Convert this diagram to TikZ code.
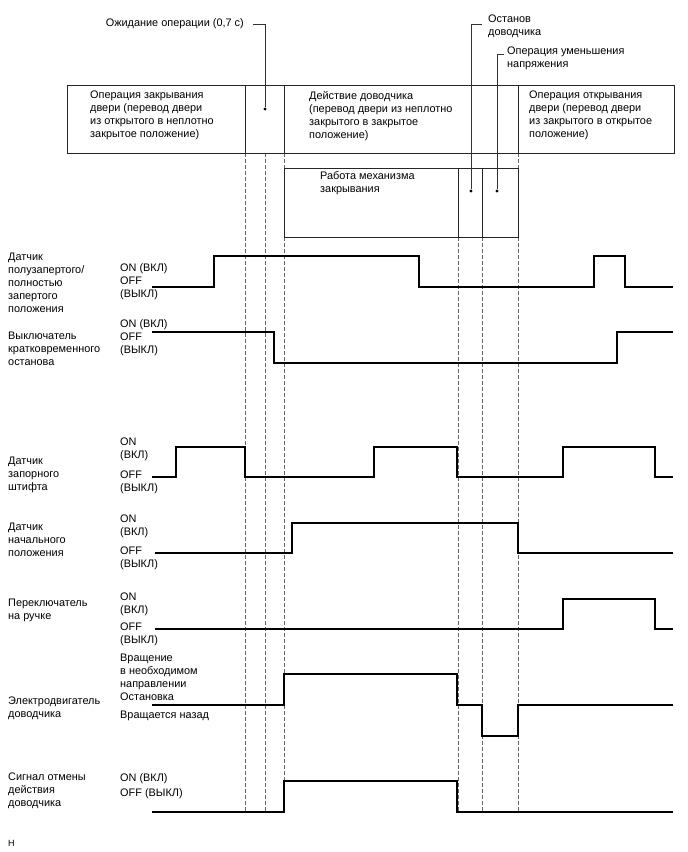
\documentclass[tikz,border=0pt]{standalone}
\usepackage{fontspec}
\setmainfont{Liberation Sans}
\usetikzlibrary{positioning}

\tikzset{
  frame/.style={draw=black!85, line width=0.9pt},
  guide/.style={draw=black!60, line width=0.7pt, dash pattern=on 3.5pt off 2.5pt},
  sig/.style={line width=1.8pt, line join=miter},
  lead/.style={draw=black!80, line width=0.8pt},
  txt/.style={font=\fontsize{10.9}{13}\selectfont, align=left, anchor=north west, inner sep=0pt},
  dot/.style={circle, fill=black, inner sep=0pt, minimum size=3.2pt}
}

\begin{document}
\begin{tikzpicture}[x=1pt,y=-1pt]
\useasboundingbox (0,0) rectangle (688,852);

% dashed time marks
\foreach \xx in {245,265,284,518}
  \draw[guide] (\xx,153) -- (\xx,811);
\foreach \xx in {458,482}
  \draw[guide] (\xx,237) -- (\xx,811);

% phase boxes
\draw[frame,fill=white] (67,85) rectangle (674,153);
\draw[frame] (245,85) -- (245,153) (284,85) -- (284,153) (518,85) -- (518,153);
\draw[frame,fill=white] (284,168) rectangle (518,237);
\draw[frame] (458,168) -- (458,237) (482,168) -- (482,237);

\node[txt] (opclose) at (90,91) {Операция закрывания\\двери (перевод двери\\из открытого в неплотно\\закрытое положение)};
\node[txt] (opcloser) at (309,91) {Действие доводчика\\(перевод двери из неплотно\\закрытого в закрытое\\положение)};
\node[txt] (opopen) at (529,91) {Операция открывания\\двери (перевод двери\\из закрытого в открытое\\положение)};
\node[txt] (mech) at (320,171) {Работа механизма\\закрывания};

% leaders
\node[dot] (dotwait) at (265,109) {};
\node[dot] (dotstop) at (471,191) {};
\node[dot] (dotreduce) at (497,191) {};
\node[font=\fontsize{10.9}{13}\selectfont, anchor=east, inner xsep=9pt, inner ysep=0pt] (lblwait) at (253,24) {Ожидание операции (0,7 с)};
\node[txt, anchor=west, inner xsep=6pt] (lblstop) at (482,26.5) {Останов\\доводчика};
\node[txt, anchor=west, inner xsep=3pt] (lblreduce) at (504,58.5) {Операция уменьшения\\напряжения};
\draw[lead] (dotwait) |- (lblwait.east);
\draw[lead] (dotstop) |- ([yshift=2.5pt]lblstop.west);
\draw[lead] (dotreduce) |- ([yshift=4.5pt]lblreduce.west);

% signal names
\node[txt] (nhalf) at (8,253) {Датчик\\полузапертого/\\полностью\\запертого\\положения};
\node[txt] (nmom) at (8,332) {Выключатель\\кратковременного\\останова};
\node[txt] (nlock) at (8,457) {Датчик\\запорного\\штифта};
\node[txt] (nhome) at (8,523) {Датчик\\начального\\положения};
\node[txt] (nhandle) at (8,599) {Переключатель\\на ручке};
\node[txt] (nmotor) at (8,697) {Электродвигатель\\доводчика};
\node[txt] (ncancel) at (8,773) {Сигнал отмены\\действия\\доводчика};

% signal levels
\node[txt] (lhalf) at (120,263) {ON (ВКЛ)\\OFF\\(ВЫКЛ)};
\node[txt] (lmom) at (120,319) {ON (ВКЛ)\\OFF\\(ВЫКЛ)};
\node[txt] (llockon) at (120,438) {ON\\(ВКЛ)};
\node[txt] (llockoff) at (120,471) {OFF\\(ВЫКЛ)};
\node[txt] (lhomeon) at (120,515) {ON\\(ВКЛ)};
\node[txt] (lhomeoff) at (120,547) {OFF\\(ВЫКЛ)};
\node[txt] (lhandleon) at (120,593) {ON\\(ВКЛ)};
\node[txt] (lhandleoff) at (120,623) {OFF\\(ВЫКЛ)};
\node[txt] (lmotor) at (120,654) {Вращение\\в необходимом\\направлении\\Остановка};
\node[txt] (lmotorback) at (120,711) {Вращается назад};
\node[txt] (lcancelon) at (120,773) {ON (ВКЛ)};
\node[txt] (lcanceloff) at (120,788) {OFF (ВЫКЛ)};

% waveforms
\draw[sig] (152,287) -| (214,256) -| (419,287) -| (594,256) -| (625,287) -- (673,287);
\draw[sig] (152,332) -| (274,363) -| (617,332) -- (673,332);
\draw[sig] (152,477) -| (176,447) -| (245,477) -| (374,447) -| (457,477) -| (563,447) -| (655,477) -- (673,477);
\draw[sig] (155,553) -| (292,523) -| (518,553) -- (673,553);
\draw[sig] (155,629) -| (563,599) -| (655,629) -- (673,629);
\draw[sig] (152,705) -| (284,674) -| (457,705) -| (482,736) -| (518,705) -- (673,705);
\draw[sig] (152,812) -| (284,781) -| (457,812) -- (673,812);

\node[font=\fontsize{9}{10}\selectfont, anchor=west, inner sep=0pt] (code) at (8,843) {H};
\end{tikzpicture}
\end{document}
